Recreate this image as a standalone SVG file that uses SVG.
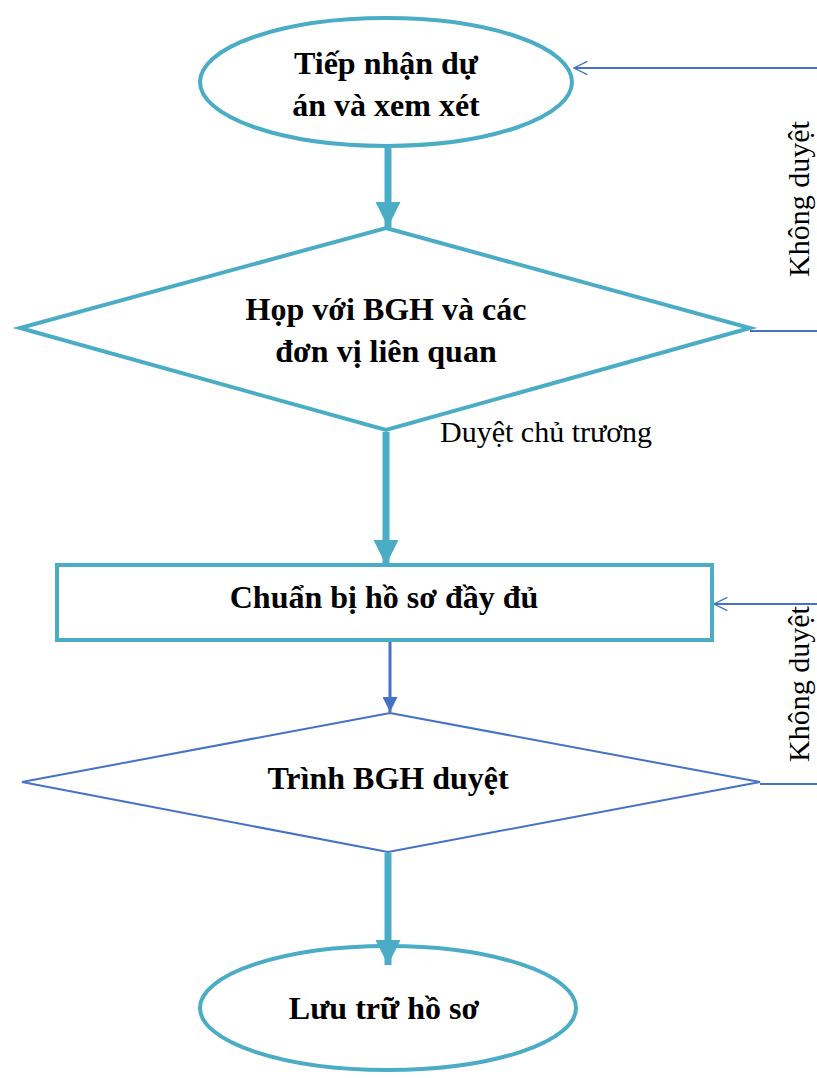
<svg xmlns="http://www.w3.org/2000/svg" width="817" height="1078" viewBox="0 0 817 1078">
  <style>
    .teal { fill: none; stroke: #4BACC6; stroke-width: 4; }
    .blue { fill: none; stroke: #4472C4; stroke-width: 2; }
    .title { font-family: "Liberation Serif", "Times New Roman", serif; font-weight: bold; font-size: 32px; fill: #000; text-anchor: middle; }
    .lbl { font-family: "Liberation Serif", "Times New Roman", serif; font-size: 30px; fill: #000; }
  </style>
  <defs>
    <marker id="tealHead" viewBox="0 0 10 10" refX="10" refY="5" markerWidth="3.6" markerHeight="3.6" orient="auto" markerUnits="strokeWidth">
      <path d="M0,0 L10,5 L0,10 Z" fill="#4BACC6"/>
    </marker>
    <marker id="blueHead" viewBox="0 0 10 10" refX="10" refY="5" markerWidth="5" markerHeight="5" orient="auto" markerUnits="strokeWidth">
      <path d="M0,0 L10,5 L0,10 Z" fill="#4472C4"/>
    </marker>
    <marker id="openHead" viewBox="0 0 12 12" refX="11" refY="6" markerWidth="8" markerHeight="8" orient="auto" markerUnits="strokeWidth">
      <path d="M1,1 L11,6 L1,11" fill="none" stroke="#4472C4" stroke-width="1"/>
    </marker>
  </defs>

  <g id="connectors">
    <line x1="388" y1="148" x2="388" y2="227" stroke="#4BACC6" stroke-width="7" marker-end="url(#tealHead)"/>
    <line x1="386" y1="432" x2="386" y2="565" stroke="#4BACC6" stroke-width="7" marker-end="url(#tealHead)"/>
    <line x1="390" y1="642" x2="390" y2="712" stroke="#4472C4" stroke-width="3" marker-end="url(#blueHead)"/>
    <line x1="388" y1="853" x2="388" y2="965" stroke="#4BACC6" stroke-width="7" marker-end="url(#tealHead)"/>
    <path d="M750,331 H830 V68 H574" class="blue" marker-end="url(#openHead)"/>
    <path d="M760,784 H830 V604 H714" class="blue" marker-end="url(#openHead)"/>
    <text class="lbl" x="440" y="442">Duyệt chủ trương</text>
    <text class="lbl" transform="translate(809,199) rotate(-90)" text-anchor="middle">Không duyệt</text>
    <text class="lbl" transform="translate(809,684) rotate(-90)" text-anchor="middle">Không duyệt</text>
  </g>

  <g id="receive">
    <ellipse cx="386" cy="82" rx="186" ry="64" class="teal"/>
    <text class="title" x="386" y="74">Tiếp nhận dự</text>
    <text class="title" x="386" y="116">án và xem xét</text>
  </g>

  <g id="meeting">
    <polygon points="386,228 750,328 386,430 20,328" class="teal"/>
    <text class="title" x="386" y="320">Họp với BGH và các</text>
    <text class="title" x="386" y="362">đơn vị liên quan</text>
  </g>

  <g id="prepare">
    <rect x="57" y="565" width="655" height="75" class="teal"/>
    <text class="title" x="384" y="608">Chuẩn bị hồ sơ đầy đủ</text>
  </g>

  <g id="submit">
    <polygon points="390,713 760,782 388,852 22,782" class="blue"/>
    <text class="title" x="388" y="789">Trình BGH duyệt</text>
  </g>

  <g id="archive">
    <ellipse cx="388" cy="1008" rx="188" ry="62" class="teal"/>
    <text class="title" x="384" y="1019">Lưu trữ hồ sơ</text>
  </g>
</svg>
